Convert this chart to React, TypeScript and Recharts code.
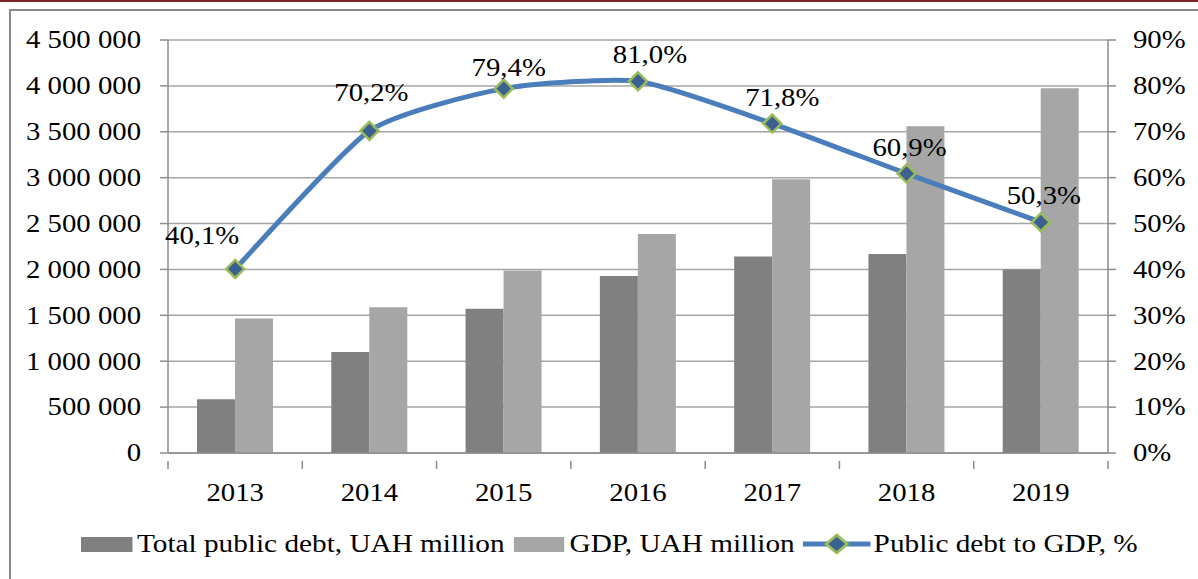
import React from 'react';
import { ComposedChart, Bar, Line, XAxis, YAxis, CartesianGrid, LabelList } from 'recharts';

const years = ['2013', '2014', '2015', '2016', '2017', '2018', '2019'];
const publicDebt = [584816, 1100833, 1572180, 1929759, 2141674, 2168361, 1998275];
const gdp = [1465198, 1586915, 1988544, 2385367, 2983882, 3560596, 3974564];
const debtToGdp = [40.1, 70.2, 79.4, 81.0, 71.8, 60.9, 50.3];
const leftTicks = [0, 500000, 1000000, 1500000, 2000000, 2500000, 3000000, 3500000, 4000000, 4500000];
const rightTicks = [0, 10, 20, 30, 40, 50, 60, 70, 80, 90];

const data = years.map((y, i) => ({
  year: y,
  debt: publicDebt[i],
  gdp: gdp[i],
  ratio: debtToGdp[i],
}));

// label placement relative to each marker (Excel puts them a bit unevenly)
const labelShift = [[-33, -33], [2, -38], [5, -21], [12, -27], [10, -26], [3, -26], [3, -27]];

const FONT = '"Liberation Serif", "Times New Roman", serif';
const FS = 25;
const SX = 1.15; // source text is a bit wider than plain Times
const LEG_SX = 1.17;
const AXIS = '#8c8c8c';
const PLOT_LEFT = 168;
const PLOT_RIGHT = 1108;
const band = (PLOT_RIGHT - PLOT_LEFT) / years.length;

const fmtNum = (v: number) => String(v).replace(/\B(?=(\d{3})+(?!\d))/g, ' ');
const fmtPct = (v: number) => v.toFixed(1).replace('.', ',') + '%';

// Excel-style smoothed line: bezier through the points, fairly low tension
const excelSmooth = (context: any) => {
  let pts: number[][] = [];
  const k = 10;
  return {
    areaStart() {},
    areaEnd() {},
    lineStart() {
      pts = [];
    },
    point(x: number, y: number) {
      pts.push([+x, +y]);
    },
    lineEnd() {
      if (!pts.length) return;
      context.moveTo(pts[0][0], pts[0][1]);
      for (let i = 0; i < pts.length - 1; i++) {
        const p0 = pts[i - 1] || pts[i];
        const p1 = pts[i];
        const p2 = pts[i + 1];
        const p3 = pts[i + 2] || p2;
        context.bezierCurveTo(
          p1[0] + (p2[0] - p0[0]) / k,
          p1[1] + (p2[1] - p0[1]) / k,
          p2[0] - (p3[0] - p1[0]) / k,
          p2[1] - (p3[1] - p1[1]) / k,
          p2[0],
          p2[1],
        );
      }
    },
  };
};

const WideText = ({ x, y, anchor, children }: any) => (
  <text
    transform={`translate(${x},${y}) scale(${SX},1)`}
    textAnchor={anchor}
    dominantBaseline="central"
    fontFamily={FONT}
    fontSize={FS}
    fill="#000"
  >
    {children}
  </text>
);

const XTick = (props: any) => {
  const { x, y, payload, index } = props;
  const last = index === years.length - 1;
  return (
    <g>
      <line x1={x - band / 2} x2={x - band / 2} y1={y} y2={y + 8} stroke={AXIS} strokeWidth={1.5} />
      {last && <line x1={x + band / 2} x2={x + band / 2} y1={y} y2={y + 8} stroke={AXIS} strokeWidth={1.5} />}
      <WideText x={x} y={y + 32} anchor="middle">{payload.value}</WideText>
    </g>
  );
};

const LeftTick = (props: any) => {
  const { x, y, payload } = props;
  return <WideText x={x} y={y} anchor="end">{fmtNum(payload.value)}</WideText>;
};

const RightTick = (props: any) => {
  const { x, y, payload } = props;
  return <WideText x={x} y={y} anchor="start">{`${payload.value}%`}</WideText>;
};

const Diamond = (props: any) => {
  const { cx, cy } = props;
  if (cx == null || cy == null) return null;
  const r = 9;
  return (
    <path
      d={`M${cx},${cy - r} L${cx + r},${cy} L${cx},${cy + r} L${cx - r},${cy} Z`}
      fill="#3a6190"
      stroke="#9bbb59"
      strokeWidth={2.5}
    />
  );
};

const RatioLabel = (props: any) => {
  const { x, y, value, index } = props;
  const [dx, dy] = labelShift[index] || [0, -28];
  return <WideText x={x + dx} y={y + dy} anchor="middle">{fmtPct(value)}</WideText>;
};

const LegendRow = () => (
  <div
    style={{
      position: 'absolute',
      left: 81,
      top: 530,
      display: 'flex',
      alignItems: 'center',
      fontFamily: FONT,
      fontSize: FS,
      color: '#000',
      whiteSpace: 'nowrap',
      transform: `scaleX(${LEG_SX})`,
      transformOrigin: 'left center',
    }}
  >
    <span style={{ display: 'inline-block', width: 51 / LEG_SX, height: 15, background: '#808080', marginRight: 5 / LEG_SX }} />
    <span style={{ marginRight: 9 / LEG_SX }}>Total public debt, UAH million</span>
    <span style={{ display: 'inline-block', width: 51 / LEG_SX, height: 15, background: '#a6a6a6', marginRight: 5 / LEG_SX }} />
    <span style={{ marginRight: 7 / LEG_SX }}>GDP, UAH million</span>
    <svg width={70 / LEG_SX} height={24} style={{ marginRight: 2 / LEG_SX }}>
      <line x1={1} x2={70 / LEG_SX - 1} y1={12} y2={12} stroke="#4a7ebb" strokeWidth={5} />
      <Diamond cx={35 / LEG_SX} cy={12} />
    </svg>
    <span>Public debt to GDP, %</span>
  </div>
);

export default function App() {
  return (
    <div style={{ position: 'absolute', left: 0, top: 0, width: 1198, height: 579, background: '#fff', overflow: 'hidden' }}>
      <div style={{ position: 'absolute', left: 0, top: 0, width: 1198, height: 2, background: '#7a2424' }} />
      <div style={{ position: 'absolute', left: 9, top: 9, width: 1189, height: 2, background: '#8a8a8a' }} />
      <div style={{ position: 'absolute', left: 9, top: 9, width: 2, height: 570, background: '#8a8a8a' }} />
      <div style={{ position: 'absolute', left: 0, top: 0 }}>
        <ComposedChart
          width={1198}
          height={510}
          data={data}
          margin={{ top: 40, right: 0, left: 10, bottom: 17 }}
          barGap={0}
          barSize={38}
        >
          <CartesianGrid yAxisId="left" vertical={false} stroke="#a6a6a6" strokeWidth={1.5} />
          <XAxis
            dataKey="year"
            height={40}
            axisLine={{ stroke: AXIS, strokeWidth: 1.5 }}
            tickLine={false}
            tick={<XTick />}
            interval={0}
          />
          <YAxis
            yAxisId="left"
            width={158}
            domain={[0, 4500000]}
            ticks={leftTicks}
            interval={0}
            axisLine={{ stroke: AXIS, strokeWidth: 1.5 }}
            tickLine={{ stroke: AXIS, strokeWidth: 1.5 }}
            tickSize={8}
            tickMargin={19}
            tick={<LeftTick />}
          />
          <YAxis
            yAxisId="right"
            orientation="right"
            width={90}
            domain={[0, 90]}
            ticks={rightTicks}
            interval={0}
            axisLine={{ stroke: AXIS, strokeWidth: 1.5 }}
            tickLine={{ stroke: AXIS, strokeWidth: 1.5 }}
            tickSize={8}
            tickMargin={17}
            tick={<RightTick />}
          />
          <Bar yAxisId="left" dataKey="debt" fill="#808080" isAnimationActive={false} />
          <Bar yAxisId="left" dataKey="gdp" fill="#a6a6a6" isAnimationActive={false} />
          <Line
            yAxisId="right"
            type={excelSmooth as any}
            dataKey="ratio"
            stroke="#4a7ebb"
            strokeWidth={5}
            dot={<Diamond />}
            activeDot={false}
            isAnimationActive={false}
          >
            <LabelList dataKey="ratio" content={<RatioLabel />} />
          </Line>
        </ComposedChart>
      </div>
      <LegendRow />
    </div>
  );
}
